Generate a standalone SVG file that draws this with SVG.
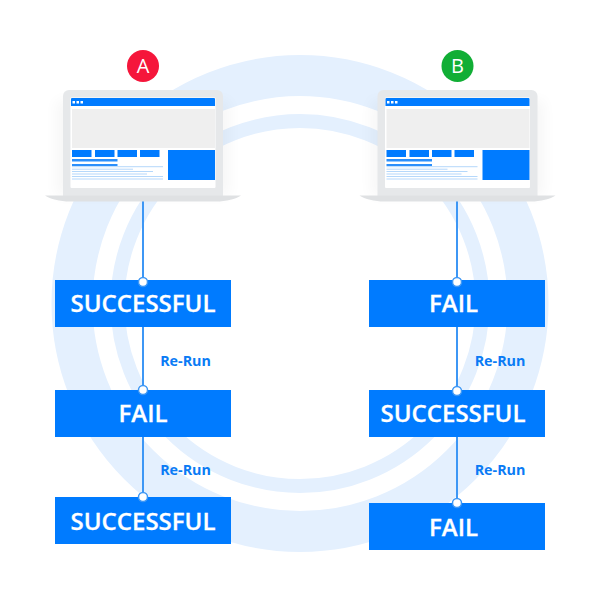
<svg xmlns="http://www.w3.org/2000/svg" width="600" height="600" viewBox="0 0 600 600">
<style>
.box{fill:#007bff}
.t{font-family:"Open Sans",sans-serif;font-weight:600;font-size:24px;fill:#fff;stroke:#fff;stroke-width:.3;text-anchor:middle}
.r{font-family:"Open Sans",sans-serif;font-weight:700;font-size:14.300px;fill:#0a7bf5;text-anchor:middle}
.l{font-family:"Open Sans",sans-serif;font-size:20px;fill:#fff;text-anchor:middle}
.dot{fill:#fff;stroke:#3d97f5;stroke-width:1.500}
.con{stroke:#3d97f5;stroke-width:2;fill:none}
.b{fill:#007bff}
.tl{fill:#b5d8fb}
</style>
<defs>
<filter id="sh" x="-20%" y="-20%" width="140%" height="140%"><feGaussianBlur stdDeviation="7"/></filter>
<g id="laptop">
<rect x="56" y="100" width="174" height="96" fill="#000" opacity=".03" filter="url(#sh)"/>
<path d="M63 196V96a6 6 0 0 1 6-6H217a6 6 0 0 1 6 6V196Z" fill="#e6e8ea"/>
<rect x="70.500" y="97.500" width="145" height="90.500" rx="1" fill="#fff"/>
<path d="M71 106V99a1 1 0 0 1 1-1H214a1 1 0 0 1 1 1V106Z" class="b"/>
<rect x="72.500" y="101" width="2.500" height="2.500" fill="#fff"/><rect x="76.500" y="101" width="2.500" height="2.500" fill="#fff"/><rect x="80.500" y="101" width="2.500" height="2.500" fill="#fff"/>
<rect x="72" y="109" width="143" height="39" fill="#efefef"/>
<rect x="72" y="150" width="19.500" height="7" class="b"/><rect x="95" y="150" width="19.500" height="7" class="b"/><rect x="117.500" y="150" width="19.500" height="7" class="b"/><rect x="140" y="150" width="19.500" height="7" class="b"/>
<rect x="168" y="150" width="47" height="30" class="b"/>
<rect x="72" y="159" width="45.500" height="2.500" fill="#2b8ffb"/><rect x="72" y="164" width="45.500" height="2" fill="#2b8ffb"/>
<rect x="72" y="166.200" width="91" height="1" class="tl"/><rect x="72" y="168.700" width="61" height="1" class="tl"/><rect x="72" y="171" width="81" height="1" class="tl"/><rect x="72" y="173.500" width="75" height="1" class="tl"/><rect x="72" y="176" width="91" height="1" class="tl"/><rect x="72" y="178.500" width="91" height="1" class="tl"/>
<path d="M45 195.500H241C236 199 226 201.500 216 201.500H70C60 201.500 50 199 45 195.500Z" fill="#dfe1e3"/>
</g>
</defs>
<g id="rings" fill="none" stroke="#e4f0fe">
<circle cx="300" cy="303.500" r="228" stroke-width="41"/>
<circle cx="300" cy="303.500" r="182.500" stroke-width="14"/>
</g>
<g id="connectors" class="con">
<path d="M143 201V390M143 437V497"/>
<path d="M457 201V391M457 437V503"/>
</g>
<g id="badge-a"><circle cx="143" cy="66" r="16" fill="#f5163b"/><text class="l" x="143" y="73">A</text></g>
<g id="badge-b"><circle cx="457.500" cy="66" r="16" fill="#11ae35"/><text class="l" x="457.500" y="73">B</text></g>
<g id="laptop-a"><use href="#laptop"/></g>
<g id="laptop-b"><use href="#laptop" x="314.500"/></g>
<g id="a1"><rect class="box" x="55" y="280" width="176" height="47"/><text class="t" x="143" y="312">SUCCESSFUL</text></g>
<g id="a2"><rect class="box" x="55" y="390" width="176" height="47"/><text class="t" x="143" y="422">FAIL</text></g>
<g id="a3"><rect class="box" x="55" y="497" width="176" height="47"/><text class="t" x="143" y="530">SUCCESSFUL</text></g>
<g id="b1"><rect class="box" x="369" y="280" width="176" height="47"/><text class="t" x="453.500" y="312">FAIL</text></g>
<g id="b2"><rect class="box" x="369" y="390" width="176" height="47"/><text class="t" x="453" y="422">SUCCESSFUL</text></g>
<g id="b3"><rect class="box" x="369" y="503" width="176" height="47"/><text class="t" x="453.500" y="536">FAIL</text></g>
<g id="dots">
<circle class="dot" cx="143" cy="282" r="4.500"/><circle class="dot" cx="143" cy="390" r="4.500"/><circle class="dot" cx="143" cy="497" r="4.500"/>
<circle class="dot" cx="457" cy="282" r="4.500"/><circle class="dot" cx="457" cy="391" r="4.500"/><circle class="dot" cx="457" cy="503" r="4.500"/>
</g>
<g id="labels">
<text class="r" x="185.500" y="366">Re-Run</text><text class="r" x="185.500" y="475">Re-Run</text>
<text class="r" x="500" y="366">Re-Run</text><text class="r" x="500" y="475">Re-Run</text>
</g>
</svg>
